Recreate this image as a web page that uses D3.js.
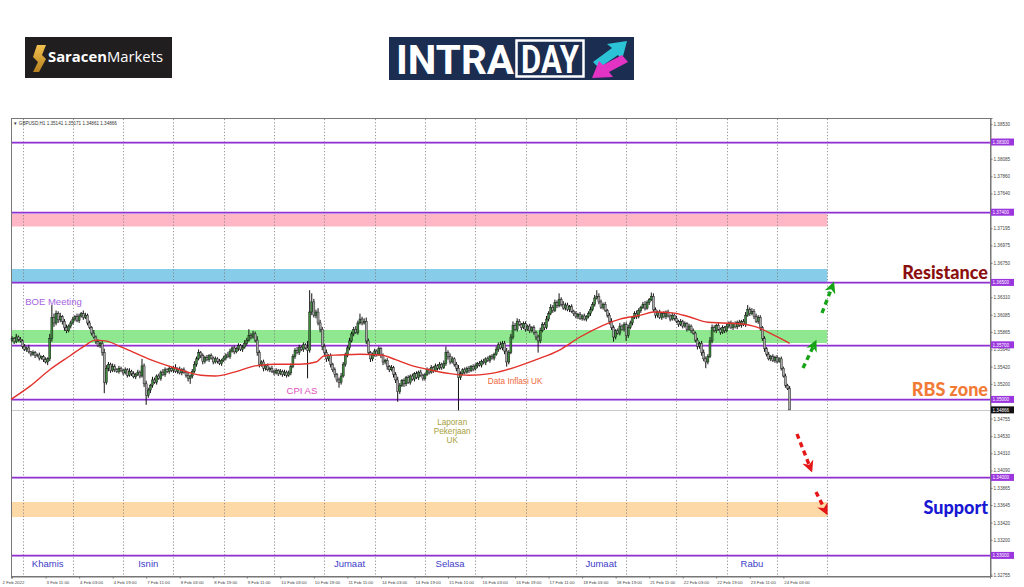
<!DOCTYPE html>
<html><head><meta charset="utf-8">
<script src="https://cdn.jsdelivr.net/npm/d3@7"></script>
<style>body{margin:0;background:#fff}svg{display:block}</style>
</head><body><svg id="c" width="1024" height="587"></svg>
<script>
// ---------- DATA (GBPUSD H1, 2 Feb 19:00 -> 24 Feb 06:00) ----------
const firstOpen = 1.3576;
const close = [
1.3578,1.3574,1.3580,1.3577,1.3575,
1.3568,1.3564,1.3566,1.3561,1.3558,1.3560,1.3556,1.3557,1.3553,1.3555,1.3551,1.3548,1.3552,1.3578,1.3605,1.3598,1.3610,1.3602,1.3606,1.3600,
1.3592,1.3588,1.3594,1.3598,
1.3603,1.3606,1.3601,1.3607,1.3610,1.3605,1.3608,1.3598,1.3592,1.3585,1.3580,1.3574,1.3569,1.3572,1.3560,1.3522,1.3540,1.3545,1.3537,1.3542,1.3538,1.3536,1.3540,1.3537,
1.3534,1.3538,1.3531,1.3536,1.3533,1.3529,1.3532,1.3535,1.3530,1.3543,1.3520,1.3505,1.3512,1.3518,1.3525,1.3522,1.3530,1.3527,1.3535,1.3532,1.3538,1.3536,1.3540,1.3537,
1.3541,1.3536,1.3539,1.3534,1.3538,1.3535,1.3531,1.3527,1.3530,1.3536,1.3545,1.3552,1.3560,1.3556,1.3549,1.3554,1.3551,1.3556,1.3553,1.3548,1.3552,1.3549,1.3546,1.3550,
1.3553,1.3557,1.3555,1.3562,1.3566,1.3561,1.3565,1.3569,1.3564,1.3567,1.3572,1.3576,1.3582,1.3580,1.3584,1.3576,1.3560,1.3545,1.3548,1.3540,1.3543,1.3538,1.3540,1.3536,
1.3534,1.3537,1.3533,1.3536,1.3532,1.3535,1.3531,1.3534,1.3542,1.3555,1.3563,1.3560,1.3567,1.3564,1.3570,1.3566,1.3563,1.3612,1.3625,1.3608,1.3612,1.3598,1.3590,1.3568,
1.3560,1.3552,1.3556,1.3545,1.3538,1.3532,1.3525,1.3522,1.3530,1.3545,1.3556,1.3566,1.3575,1.3584,1.3590,1.3586,1.3598,1.3603,1.3598,1.3600,1.3575,1.3560,1.3552,1.3557,
1.3562,1.3558,1.3565,1.3556,1.3548,1.3550,1.3542,1.3538,1.3541,1.3532,1.3525,1.3510,1.3518,1.3524,1.3520,1.3528,1.3522,1.3530,1.3526,1.3533,1.3528,1.3535,1.3531,1.3527,
1.3532,1.3538,1.3535,1.3541,1.3537,1.3543,1.3540,1.3545,1.3541,1.3546,1.3560,1.3555,1.3548,1.3552,1.3545,1.3540,1.3528,1.3533,1.3538,1.3535,1.3540,1.3537,1.3542,1.3539,
1.3543,1.3546,1.3544,1.3549,1.3547,1.3552,1.3550,1.3555,1.3553,1.3558,1.3564,1.3570,1.3566,1.3572,1.3562,1.3548,1.3560,1.3580,1.3595,1.3590,1.3600,1.3596,1.3592,1.3597,
1.3590,1.3594,1.3588,1.3592,1.3586,1.3580,1.3575,1.3588,1.3596,1.3592,1.3603,1.3610,1.3618,1.3614,1.3624,1.3620,1.3628,1.3622,1.3617,1.3621,1.3615,1.3619,1.3613,1.3610,
1.3606,1.3609,1.3604,1.3607,1.3603,1.3606,1.3610,1.3615,1.3622,1.3630,1.3632,1.3625,1.3618,1.3622,1.3614,1.3608,1.3600,1.3592,1.3580,1.3588,1.3585,1.3594,1.3590,1.3596,
1.3582,1.3592,1.3598,1.3605,1.3610,1.3606,1.3614,1.3618,1.3622,1.3617,1.3624,1.3628,1.3632,1.3615,1.3608,1.3612,1.3605,1.3610,1.3606,1.3612,1.3607,1.3603,1.3608,1.3604,
1.3600,1.3596,1.3600,1.3594,1.3597,1.3590,1.3594,1.3588,1.3585,1.3576,1.3568,1.3572,1.3560,1.3552,1.3548,1.3555,1.3575,1.3592,1.3588,1.3595,1.3590,1.3586,1.3592,1.3588,
1.3594,1.3598,1.3592,1.3597,1.3593,1.3599,1.3595,1.3600,1.3596,1.3608,1.3615,1.3610,1.3613,1.3606,1.3600,1.3605,1.3592,1.3578,1.3565,1.3558,1.3552,1.3555,1.3550,1.3554,
1.3549,1.3552,1.3540,1.3530,1.3518,1.3514,1.34866
];
// upper / lower wick length of each candle, in pips
const wickUp = [
3,2,4,2,3,
2,3,2,4,1,3,2,2,3,1,2,3,2,6,16,5,4,3,5,2,
3,4,2,3,
3,2,4,3,2,4,3,2,3,2,4,2,3,2,3,5,4,3,2,4,3,2,3,2,
2,3,2,4,2,3,2,3,2,9,3,4,3,2,4,3,2,3,2,4,3,2,3,2,
2,4,2,3,2,3,2,3,2,3,4,3,4,2,3,2,3,2,3,2,3,2,3,2,
3,2,4,3,2,3,2,3,2,3,4,3,8,3,4,3,5,3,2,3,2,3,2,3,
2,3,2,3,2,3,2,3,4,3,3,4,3,2,3,2,9,28,11,4,3,5,4,3,
3,4,2,3,2,3,2,3,4,3,4,3,4,3,3,4,3,7,3,4,5,3,2,3,
3,2,3,2,3,2,3,2,3,2,3,4,3,2,3,2,3,2,3,2,3,2,3,2,
2,3,2,3,2,3,2,3,2,4,8,3,4,3,2,3,4,3,2,3,2,3,2,3,
3,2,3,2,3,2,3,2,3,2,4,3,4,3,3,4,3,4,5,3,4,3,2,3,
3,2,3,2,3,2,3,4,3,3,4,3,4,3,4,3,8,3,4,3,3,2,3,2,
3,2,3,2,3,2,3,4,3,4,8,4,3,2,3,2,3,4,3,2,3,4,2,3,
3,4,3,2,3,4,3,2,3,4,3,2,5,4,3,2,3,2,3,2,3,2,3,2,
3,2,3,2,3,2,3,2,3,2,3,2,3,4,3,3,5,4,3,2,3,2,3,2,
3,2,3,2,3,2,3,2,3,4,6,3,4,3,4,3,3,2,3,2,3,2,3,2,
3,2,3,2,3,2,3.1
];
const wickDn = [
2,3,2,3,2,
3,2,3,2,3,2,3,2,3,2,3,2,4,3,4,5,3,4,3,4,
4,3,2,3,
2,3,2,3,2,3,2,3,2,3,2,3,2,3,4,14,3,4,3,2,3,2,3,2,
3,2,3,2,3,2,3,2,3,2,4,12,3,4,3,2,3,2,3,2,3,2,3,2,
3,2,3,2,3,2,3,4,7,3,2,3,2,3,4,3,2,3,2,3,2,3,2,3,
2,3,2,3,2,3,2,3,2,3,2,3,2,3,2,3,4,4,3,4,3,2,3,2,
3,2,3,2,3,2,3,2,3,2,3,2,3,2,3,2,36,3,4,3,4,3,4,5,
3,4,3,4,3,4,3,7,3,2,3,2,3,2,3,2,3,2,3,2,4,3,4,3,
2,3,2,3,4,3,4,3,2,4,4,13,3,2,4,3,2,3,2,3,2,3,2,3,
3,2,3,2,3,2,3,2,3,2,3,4,3,2,3,4,42,3,2,3,2,3,2,3,
2,3,2,3,2,3,2,3,2,3,2,3,2,3,4,6,3,2,3,2,3,2,3,2,
3,2,3,2,3,4,15,3,2,3,2,3,2,3,2,3,2,3,2,3,2,3,2,3,
2,3,2,3,2,3,2,3,2,3,2,3,2,3,2,3,4,3,6,3,2,3,2,3,
7,3,2,3,2,3,2,3,2,3,2,3,2,3,4,3,2,3,2,3,2,3,2,3,
2,3,2,3,2,3,2,3,2,3,4,3,4,3,8,3,2,3,2,3,2,3,2,3,
2,3,2,3,2,3,2,3,2,3,2,3,2,3,2,3,4,3,4,3,2,3,2,3,
3,2,3,2,3,2,0.05
];
// moving average (red line), sampled: bar index and value
const maIdx = [-0.5,8.6,18,27.7,34.8,39.6,44.4,54,66,78,90,97,106,116,125,137,145,149,156,166,176,183,190,199,209,218,228,236,250,261,271,282,290,300,306,315,323,332,339,347,355,363,371];
const maVal = [1.3500,1.3517,1.3538,1.3556,1.3569,1.3576,1.3575,1.3565,1.3551,1.3540,1.3531,1.3530,1.3535,1.3543,1.3545,1.3545,1.3548,1.3556,1.3557,1.3558,1.3557,1.3551,1.3544,1.3538,1.3533,1.3531,1.3533,1.3538,1.3551,1.3563,1.3580,1.3595,1.3603,1.3608,1.3612,1.3611,1.3606,1.3599,1.3598,1.3597,1.3593,1.3583,1.3572];
// horizontal levels and zones
const levels = [1.38300,1.37400,1.36500,1.35700,1.35000,1.34000,1.33000];
const levelText = ["1.38300","1.37400","1.36500","1.35700","1.35000","1.34000","1.33000"];
const zoneLo = [1.37217,1.36500,1.35723,1.33492];
const zoneHi = [1.37400,1.36672,1.35890,1.33685];
const lastPrice = 1.34866;
const zoneEndIdx = 389;
// axes
const yTicks = [1.38530,1.38085,1.37860,1.37640,1.37195,1.36975,1.36750,1.36310,1.36085,1.35865,1.35640,1.35420,1.35200,1.34755,1.34530,1.34310,1.34090,1.33865,1.33645,1.33420,1.33200,1.32755];
const xLabelIdx = [0,16,32,48,64,80,96,112,128,144,160,176,192,208,224,240,256,272,288,304,320,336,352,368];
const xLabels = ["2 Feb 2022","3 Feb 11:00","4 Feb 03:00","4 Feb 19:00","7 Feb 11:00","8 Feb 03:00","8 Feb 19:00","9 Feb 11:00","10 Feb 03:00","10 Feb 19:00","11 Feb 11:00","14 Feb 03:00","14 Feb 19:00","15 Feb 11:00","16 Feb 03:00","16 Feb 19:00","17 Feb 11:00","18 Feb 03:00","18 Feb 19:00","21 Feb 11:00","22 Feb 03:00","22 Feb 19:00","23 Feb 11:00","24 Feb 03:00"];
const dayStartIdx = [5,29,53,77,101,125,149,173,197,221,245,269,293,317,341,365,389];
const dayNames = ["Khamis","Isnin","Jumaat","Selasa","Jumaat","Rabu"];
const dayNameIdx = [17,65,161,209,281,353];
// event notes: text lines, bar index, price
const notes = [
 {t:["BOE Meeting"], i:6.3, p:1.36215, c:"#a463e0", a:"start", fs:9.5, lh:12},
 {t:["CPI AS"], i:131, p:1.35075, c:"#e04fc0", a:"start", fs:9.5, lh:12},
 {t:["Data Inflasi UK"], i:227, p:1.35195, c:"#f0673a", a:"start", fs:8.2, lh:10},
 {t:["Laporan","Pekerjaan","UK"], i:210, p:1.34675, c:"#a8a040", a:"middle", fs:8.2, lh:9.2}
];

// ---------- DRAW ----------
const svg = d3.select("#c");
const L=11, R=990, T=118, B=576;
const x = d3.scaleLinear().domain([-0.5,466.6]).range([L,R]);
const y = d3.scaleLinear().domain([1.32736,1.38608]).range([B,T]);

// logos
const g0 = svg.append("g");
g0.append("rect").attr("x",25).attr("y",37).attr("width",147).attr("height",41).attr("fill","#211e1f");
const defs = svg.append("defs");
const grad = defs.append("linearGradient").attr("id","gold").attr("x1",0).attr("y1",0).attr("x2",0).attr("y2",1);
grad.append("stop").attr("offset","0").attr("stop-color","#f2c14e");
grad.append("stop").attr("offset","1").attr("stop-color","#b5801f");
g0.append("path").attr("d","M37,45 L46,45 L42,55 L46,59 L39,72 L33,72 L38,62 L33,57 Z").attr("fill","url(#gold)");
const st = g0.append("text").attr("x",48).attr("y",62).attr("font-family","Open Sans").attr("font-size",14)
  .attr("fill","#fff").attr("textLength",115).attr("lengthAdjust","spacingAndGlyphs");
st.append("tspan").attr("font-weight",700).text("Saracen");
st.append("tspan").attr("font-weight",400).text("Markets");

const g1 = svg.append("g");
g1.append("rect").attr("x",389).attr("y",37).attr("width",245).attr("height",43).attr("fill","#1b2d50");
g1.append("text").attr("x",396).attr("y",74).attr("font-family","Roboto").attr("font-weight",700).attr("font-size",40)
  .attr("fill","#fff").attr("textLength",118).attr("lengthAdjust","spacingAndGlyphs").text("INTRA");
g1.append("rect").attr("x",516.5).attr("y",40.5).attr("width",67).attr("height",36).attr("fill","none").attr("stroke","#fff").attr("stroke-width",2.5);
g1.append("text").attr("x",521).attr("y",73).attr("font-family","Roboto").attr("font-weight",700).attr("font-size",38)
  .attr("fill","#fff").attr("textLength",58).attr("lengthAdjust","spacingAndGlyphs").text("DAY");
g1.append("path").attr("d","M593,62 L612,48 L607,44 L627,41 L622,60 L618,55 L599,68 Z").attr("fill","#2cc3d6");
g1.append("path").attr("d","M628,62 L609,72 L613,77 L592,78 L599,61 L603,65 L622,55 Z").attr("fill","#e233c4");

// frame
svg.append("rect").attr("x",L+0.5).attr("y",T+0.5).attr("width",R-L).attr("height",B-T).attr("fill","#fff").attr("stroke","#777").attr("stroke-width",1);

// zones
const zc = ["#ffb7c5","#87cdea","#8fe88f","#fdd9a8"];
svg.append("g").selectAll("rect").data(zoneLo).join("rect")
  .attr("x",L+1).attr("width",x(zoneEndIdx)-L-1)
  .attr("y",(d,i)=>y(zoneHi[i])).attr("height",(d,i)=>y(zoneLo[i])-y(zoneHi[i]))
  .attr("fill",(d,i)=>zc[i]);

// vertical grid
svg.append("g").selectAll("line").data(dayStartIdx).join("line")
  .attr("x1",d=>Math.round(x(d))+0.5).attr("x2",d=>Math.round(x(d))+0.5).attr("y1",T+1).attr("y2",B)
  .attr("stroke","#7a7a7a").attr("stroke-width",0.8).attr("stroke-dasharray","1.2,2");

// current price line
svg.append("line").attr("x1",L+1).attr("x2",R).attr("y1",Math.round(y(lastPrice))+0.5).attr("y2",Math.round(y(lastPrice))+0.5)
  .attr("stroke","#c8c8c8").attr("stroke-width",1);

// level lines
const lg = svg.append("g");
lg.selectAll("line.s").data(levels).join("line").attr("class","s")
  .attr("x1",L+1).attr("x2",R).attr("y1",d=>Math.round(y(d))+1.5).attr("y2",d=>Math.round(y(d))+1.5)
  .attr("stroke","#d3b3ef").attr("stroke-width",1);
lg.selectAll("line.m").data(levels).join("line").attr("class","m")
  .attr("x1",L+1).attr("x2",R).attr("y1",d=>Math.round(y(d))+0.5).attr("y2",d=>Math.round(y(d))+0.5)
  .attr("stroke","#9030d0").attr("stroke-width",1.4);

// candles
const candles = close.map((c,i)=>{
  const o = i ? close[i-1] : firstOpen;
  return {i, o, c, h: Math.max(o,c)+wickUp[i]/10000, l: Math.min(o,c)-wickDn[i]/10000};
});
const cg = svg.append("g");
cg.selectAll("line").data(candles).join("line")
  .attr("x1",d=>x(d.i)).attr("x2",d=>x(d.i)).attr("y1",d=>y(d.h)).attr("y2",d=>y(d.l))
  .attr("stroke","#111").attr("stroke-width",1);
cg.selectAll("rect").data(candles).join("rect")
  .attr("x",d=>x(d.i)-1).attr("width",2)
  .attr("y",d=>y(Math.max(d.o,d.c))).attr("height",d=>Math.max(0.7,Math.abs(y(d.o)-y(d.c))))
  .attr("fill",d=>d.c>=d.o?"#3d8a3d":"#a9a9a9").attr("stroke","#111").attr("stroke-width",0.45);

// moving average
svg.append("path").datum(maIdx.map((d,i)=>[d,maVal[i]]))
  .attr("d",d3.line().x(d=>x(d[0])).y(d=>y(d[1])).curve(d3.curveMonotoneX))
  .attr("fill","none").attr("stroke","#e3322b").attr("stroke-width",1.4);

// right axis
const ya = svg.append("g").attr("transform",`translate(${R+0.5},0)`)
  .call(d3.axisRight(y).tickValues(yTicks).tickSize(2).tickFormat(d3.format(".5f")));
ya.select(".domain").attr("stroke","#777");
ya.selectAll(".tick line").attr("stroke","#777");
ya.selectAll(".tick text").attr("x",3).attr("font-size",4.6).attr("font-family","Liberation Sans").attr("fill","#444");

// level labels on axis
const ll = svg.append("g");
ll.selectAll("rect").data(levels).join("rect")
  .attr("x",R+1).attr("y",d=>y(d)-3.5).attr("width",23).attr("height",7).attr("fill","#9b35dd");
ll.selectAll("text").data(levels).join("text")
  .attr("x",R+2.5).attr("y",d=>y(d)+1.7).attr("font-size",4.6).attr("font-family","Liberation Sans").attr("fill","#fff")
  .text((d,i)=>levelText[i]);
svg.append("rect").attr("x",R+1).attr("y",y(lastPrice)-3.5).attr("width",23).attr("height",7).attr("fill","#111");
svg.append("text").attr("x",R+2.5).attr("y",y(lastPrice)+1.7).attr("font-size",4.6).attr("font-family","Liberation Sans").attr("fill","#fff").text(d3.format(".5f")(lastPrice));

// bottom axis
const xa = svg.append("g").attr("transform",`translate(0,${B+0.5})`)
  .call(d3.axisBottom(x).tickValues(xLabelIdx).tickSize(2).tickFormat((d,i)=>xLabels[i]));
xa.select(".domain").attr("stroke","#777");
xa.selectAll(".tick line").attr("stroke","#777");
xa.selectAll(".tick text").attr("text-anchor","start").attr("x",0.5).attr("y",4).attr("dy","0.71em")
  .attr("font-size",4.3).attr("font-family","Liberation Sans").attr("fill","#444");
xa.selectAll(".tick").filter((d,i)=>i===0).select("text").attr("x",-10);

// header
svg.append("text").attr("x",13).attr("y",125).attr("font-size",4.6).attr("font-family","Liberation Sans").attr("fill","#333")
  .text("\u25BC  GBPUSD,H1  1.35141 1.35171 1.34861 1.34866");

// day names
svg.append("g").selectAll("text").data(dayNames).join("text")
  .attr("x",(d,i)=>x(dayNameIdx[i])).attr("y",567).attr("text-anchor","middle")
  .attr("font-family","Liberation Sans").attr("font-size",9.5).attr("fill","#3d3dc8").text(d=>d);

// event notes
notes.forEach(n=>{
  const t = svg.append("text").attr("x",x(n.i)).attr("y",y(n.p)).attr("text-anchor",n.a)
    .attr("font-family","Liberation Sans").attr("font-size",n.fs).attr("fill",n.c);
  n.t.forEach((s,k)=>t.append("tspan").attr("x",x(n.i)).attr("dy",k?n.lh:0).text(s));
});

// zone titles
const zt = [["Resistance",279,"#8c0f10"],["RBS zone",396,"#f27a35"],["Support",514,"#1717d4"]];
svg.append("g").selectAll("text").data(zt).join("text")
  .attr("x",988).attr("y",d=>d[1]).attr("text-anchor","end")
  .attr("font-family","Lato").attr("font-weight",900).attr("font-size",18).attr("fill",d=>d[2]).text(d=>d[0]);

// projection arrows
[["g","#17a317"],["r","#e51616"]].forEach(([id,c])=>{
  defs.append("marker").attr("id","ah"+id).attr("viewBox","0 0 10 10").attr("refX",5).attr("refY",5)
   .attr("markerWidth",3.4).attr("markerHeight",3.4).attr("orient","auto").attr("markerUnits","strokeWidth")
   .append("path").attr("d","M0,0 L10,5 L0,10 L3,5 Z").attr("fill",c);
});
const arrows = [
  [[803,368],[814,345],"g"],
  [[822,313],[832,287],"g"],
  [[797,434],[810,467],"r"],
  [[816,492],[825,510],"r"]
];
svg.append("g").selectAll("line").data(arrows).join("line")
  .attr("x1",d=>d[0][0]).attr("y1",d=>d[0][1]).attr("x2",d=>d[1][0]).attr("y2",d=>d[1][1])
  .attr("stroke",d=>d[2]==="g"?"#17a317":"#e51616").attr("stroke-width",3.4).attr("stroke-dasharray","5,4")
  .attr("marker-end",d=>`url(#ah${d[2]})`);
</script></body></html>
